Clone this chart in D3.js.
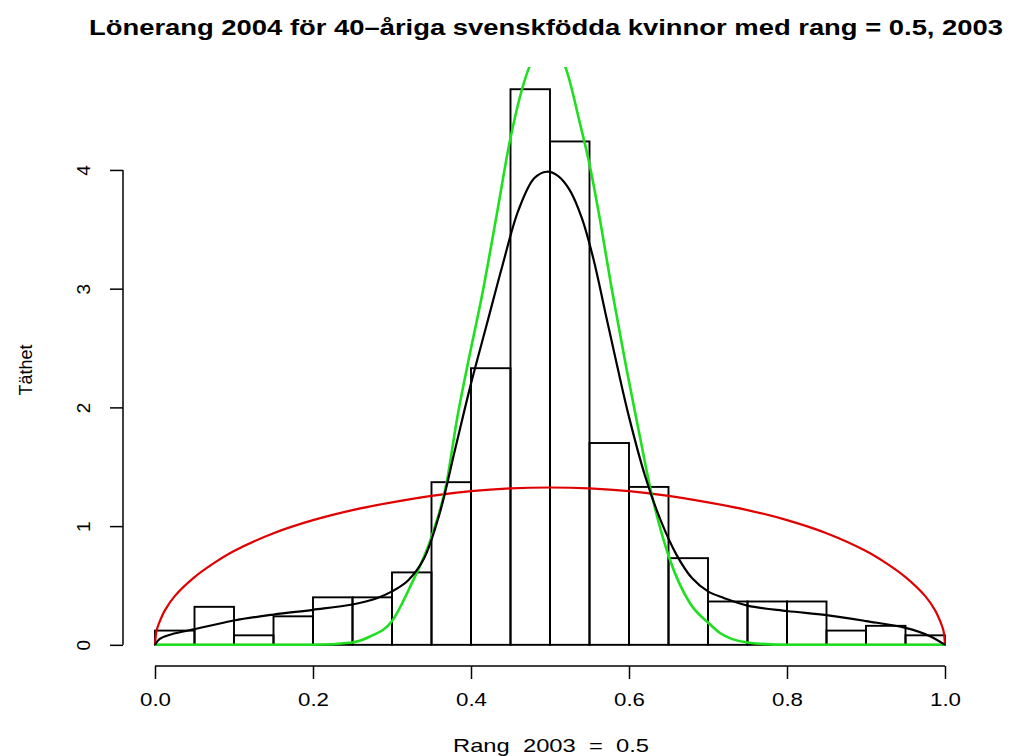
<!DOCTYPE html>
<html><head><meta charset="utf-8">
<script src="https://cdn.jsdelivr.net/npm/d3@7"></script>
<style>
body{margin:0;background:#fff}
text{font-family:"Liberation Sans",Arial,Helvetica,sans-serif;fill:#000;white-space:pre}
</style>
</head><body>
<svg id="chart" width="1018" height="756"></svg>
<script>
// ---- data ----
const titleText = "Lönerang 2004 för 40–åriga svenskfödda kvinnor med rang = 0.5, 2003";
const xLabel = "Rang  2003  =  0.5";
const yLabel = "Täthet";
const binStarts = [0,0.05,0.1,0.15,0.2,0.25,0.3,0.35,0.4,0.45,0.5,0.55,0.6,0.65,0.7,0.75,0.8,0.85,0.9,0.95];
const binWidth = 0.05;
const densities = [0.12,0.32,0.08,0.24,0.40,0.40,0.61,1.37,2.33,4.68,4.24,1.70,1.33,0.73,0.365,0.365,0.365,0.12,0.16,0.08];
const xTicks = [0,0.2,0.4,0.6,0.8,1.0];
const xTickLabels = ["0.0","0.2","0.4","0.6","0.8","1.0"];
const yTicks = [0,1,2,3,4];
const yTickLabels = ["0","1","2","3","4"];
// black kernel density curve
const kdeX = [0,0.006,0.019,0.036,0.05,0.1,0.15,0.2,0.25,0.28,0.3,0.32,0.34,0.36,0.38,0.4,0.42,0.44,0.46,0.48,0.496,0.51,0.525,0.54,0.555,0.57,0.585,0.6,0.62,0.64,0.66,0.68,0.7,0.72,0.75,0.8,0.85,0.9,0.95,0.981,1];
const kdeY = [0,0.05,0.085,0.112,0.132,0.205,0.255,0.295,0.34,0.39,0.45,0.54,0.72,1.1,1.65,2.2,2.7,3.2,3.66,3.93,3.985,3.95,3.83,3.6,3.25,2.8,2.35,1.92,1.43,1.05,0.76,0.56,0.45,0.395,0.33,0.285,0.25,0.20,0.143,0.073,0];
// green curve
const greenX = [0,0.2,0.25,0.2722,0.2996,0.323,0.35,0.369,0.382,0.3945,0.4156,0.4325,0.4494,0.4734,0.497,0.5198,0.538,0.5506,0.5633,0.5781,0.597,0.6139,0.6266,0.6506,0.6772,0.7013,0.7152,0.75,0.8,1];
const greenY = [0,0,0.02,0.07,0.196,0.49,0.91,1.36,1.89,2.32,3.0,3.62,4.25,4.86,5.06,4.86,4.39,4.03,3.58,3.0,2.32,1.75,1.33,0.74,0.35,0.18,0.1,0.02,0,0];
// red curve
const redX = [0,0.002,0.005,0.0125,0.025,0.05,0.075,0.1,0.15,0.2,0.25,0.3,0.35,0.4,0.45,0.5,0.55,0.6,0.65,0.7,0.75,0.8,0.85,0.9,0.925,0.95,0.975,0.9875,0.995,0.998,1];
const redY = [0,0.12,0.18,0.29,0.41,0.57,0.69,0.79,0.94,1.05,1.135,1.2,1.255,1.295,1.318,1.325,1.318,1.295,1.255,1.2,1.135,1.05,0.94,0.79,0.69,0.57,0.41,0.29,0.18,0.12,0];

// ---- drawing ----
const svg = d3.select("#chart");
const x = d3.scaleLinear().domain([-0.04,1.04]).range([123.4,976.6]);
const y = d3.scaleLinear().domain([-0.1868,4.8672]).range([667,67]);

svg.append("defs").append("clipPath").attr("id","plotclip")
  .append("rect").attr("x",x(-0.04)).attr("y",y(4.8672)).attr("width",x(1.04)-x(-0.04)).attr("height",y(-0.1868)-y(4.8672));

// title
svg.append("text").attr("x",546).attr("y",35).attr("text-anchor","middle")
  .style("font-size","22px").style("font-weight","bold")
  .attr("textLength",914).attr("lengthAdjust","spacingAndGlyphs")
  .text(titleText);

// histogram
svg.append("g").selectAll("rect").data(binStarts).join("rect")
  .attr("x",(d)=>x(d)).attr("width",(d)=>x(d+binWidth)-x(d))
  .attr("y",(d,i)=>y(densities[i])).attr("height",(d,i)=>y(0)-y(densities[i]))
  .attr("fill","none").attr("stroke","#000").attr("stroke-width",1.9);

const smooth = d3.line().x(d=>x(d[0])).y(d=>y(d[1])).curve(d3.curveCatmullRom.alpha(0.5));
const mono = d3.line().x(d=>x(d[0])).y(d=>y(d[1])).curve(d3.curveMonotoneX);
const curves = svg.append("g").attr("clip-path","url(#plotclip)");
curves.append("path").datum(redX.map((v,i)=>[v,redY[i]])).attr("d",smooth)
  .attr("fill","none").attr("stroke","#e00000").attr("stroke-width",2.2);
curves.append("path").datum(greenX.map((v,i)=>[v,greenY[i]])).attr("d",mono)
  .attr("fill","none").attr("stroke","#1ee01e").attr("stroke-width",2.6);
curves.append("path").datum(kdeX.map((v,i)=>[v,kdeY[i]])).attr("d",smooth)
  .attr("fill","none").attr("stroke","#000").attr("stroke-width",2.2);

// x axis
const xAxis = svg.append("g").attr("transform",`translate(0,${666})`)
  .call(d3.axisBottom(x).tickValues(xTicks).tickFormat((d,i)=>xTickLabels[i]).tickSize(13).tickPadding(14));
xAxis.select(".domain").remove();
xAxis.append("line").attr("x1",x(0)).attr("x2",x(1)).attr("stroke","#000").attr("stroke-width",1.5);
xAxis.selectAll(".tick line").attr("stroke-width",1.5);
xAxis.selectAll(".tick text").attr("textLength",31).attr("lengthAdjust","spacingAndGlyphs")
  .style("font-size","19px").style("font-family","'Liberation Sans',Arial,sans-serif");

// y axis
const yAxis = svg.append("g").attr("transform",`translate(${123},0)`)
  .call(d3.axisLeft(y).tickValues(yTicks).tickFormat((d,i)=>yTickLabels[i]).tickSize(13).tickPadding(0));
yAxis.select(".domain").remove();
yAxis.append("line").attr("y1",y(0)).attr("y2",y(4)).attr("stroke","#000").attr("stroke-width",1.5);
yAxis.selectAll(".tick line").attr("stroke-width",1.5);
yAxis.selectAll(".tick text").attr("x",0).attr("text-anchor","middle")
  .attr("transform","translate(-40,0) rotate(-90)").attr("dy","0.35em")
  .style("font-size","19px").style("font-family","'Liberation Sans',Arial,sans-serif");

// axis titles
svg.append("text").attr("x",551).attr("y",752).attr("text-anchor","middle")
  .style("font-size","19px").attr("textLength",196).attr("lengthAdjust","spacingAndGlyphs").text(xLabel);
svg.append("text").attr("transform","translate(32,370) rotate(-90)").attr("text-anchor","middle")
  .style("font-size","18px").text(yLabel);
</script>
</body></html>
